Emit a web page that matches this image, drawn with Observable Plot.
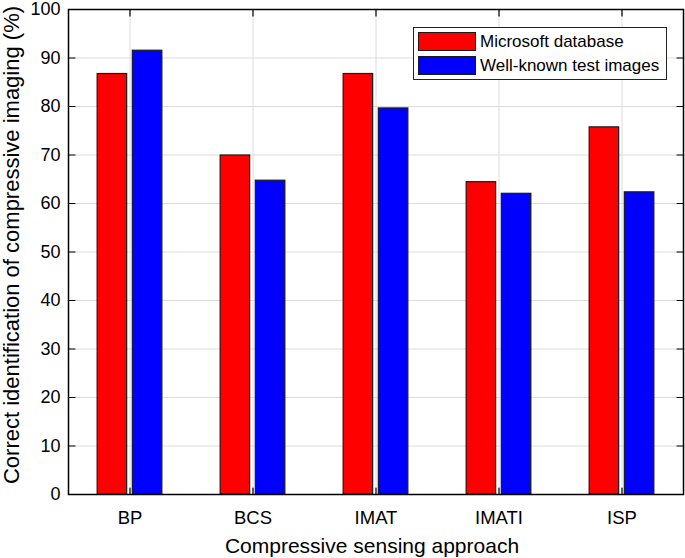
<!DOCTYPE html>
<html>
<head>
<meta charset="utf-8">
<script src="https://cdn.jsdelivr.net/npm/d3@7"></script>
<script src="https://cdn.jsdelivr.net/npm/@observablehq/plot@0.6"></script>
<style>
  html, body { margin: 0; padding: 0; background: #fff; }
  #wrap { position: relative; width: 685px; height: 558px; font-family: "Liberation Sans", Arial, sans-serif; }
  #legend { position: absolute; left: 413px; top: 27px; width: 252px; height: 51px;
            border: 1.3px solid #222; background: #fff; box-sizing: content-box; }
  .row { position: absolute; left: 4px; display: flex; align-items: center; height: 19px; }
  .sw { width: 56px; height: 17px; border: 1.2px solid #1a1a1a; margin-right: 4px; }
  .lt { font-size: 17px; color: #000; line-height: 19px; white-space: nowrap; }
</style>
</head>
<body>
<div id="wrap"></div>
<script>
// ---- data ----
const categories = ["BP", "BCS", "IMAT", "IMATI", "ISP"];
const seriesNames = ["Microsoft database", "Well-known test images"];
const microsoft = [86.7, 69.9, 86.7, 64.4, 75.7];
const wellKnown = [91.5, 64.7, 79.6, 62.0, 62.3];
const yTicks = [0, 10, 20, 30, 40, 50, 60, 70, 80, 90, 100];
const seriesColors = ["#ff0000", "#0000ff"];

// ---- layout / style constants ----
const barOffsets = [[-0.263, -0.023], [0.023, 0.263]]; // per series, in category units
const font = "Liberation Sans, Arial, sans-serif";
const catIdx = categories.map((c, i) => i + 1);

const rows = [];
[microsoft, wellKnown].forEach((vals, s) => {
  vals.forEach((v, i) => rows.push({i: i + 1, s, value: v}));
});

const tickShape = {draw(context, l) { context.moveTo(0, 0); context.lineTo(0, -l); }};
const tickOpts = {length: 6.5, anchor: "start", shape: tickShape, stroke: "#000", strokeWidth: 1.2};

const chart = Plot.plot({
  width: 685,
  height: 558,
  marginLeft: 68,
  marginRight: 2,
  marginTop: 9,
  marginBottom: 64,
  style: {fontFamily: font, background: "#fff", overflow: "visible"},
  x: {domain: [0.5, 5.5], axis: null},
  y: {domain: [0, 100], axis: null},
  marks: [
    Plot.gridY(yTicks, {stroke: "#dcdcdc", strokeOpacity: 1, strokeWidth: 1}),
    Plot.gridX(catIdx, {stroke: "#dcdcdc", strokeOpacity: 1, strokeWidth: 1}),
    Plot.rectY(rows, {
      x1: d => d.i + barOffsets[d.s][0],
      x2: d => d.i + barOffsets[d.s][1],
      y1: 0,
      y2: "value",
      fill: d => seriesColors[d.s],
      stroke: "#1a1a1a",
      strokeWidth: 1.2
    }),
    Plot.frame({stroke: "#000", strokeWidth: 1.5}),
    Plot.vector(catIdx, {x: d => d, frameAnchor: "bottom", rotate: 0, ...tickOpts}),
    Plot.vector(catIdx, {x: d => d, frameAnchor: "top", rotate: 180, ...tickOpts}),
    Plot.vector(yTicks, {y: d => d, frameAnchor: "left", rotate: 90, ...tickOpts}),
    Plot.vector(yTicks, {y: d => d, frameAnchor: "right", rotate: -90, ...tickOpts}),
    // y tick labels
    Plot.text(yTicks, {
      y: d => d, text: d => String(d), frameAnchor: "left", dx: -8, textAnchor: "end",
      lineAnchor: "middle", fontSize: 18, fill: "#000"
    }),
    // x tick labels
    Plot.text(catIdx, {
      x: d => d, text: d => categories[d - 1], frameAnchor: "bottom", dy: 29.5,
      lineAnchor: "bottom", textAnchor: "middle", fontSize: 18.5, fill: "#000"
    }),
    Plot.text(["Compressive sensing approach"], {
      text: d => d, frameAnchor: "bottom", dy: 58, dx: -4, lineAnchor: "bottom",
      fontSize: 21, fill: "#000"
    }),
    Plot.text(["Correct identification of compressive imaging (%)"], {
      text: d => d, frameAnchor: "left", dx: -57, dy: -7, rotate: -90, lineAnchor: "middle",
      textAnchor: "middle", fontSize: 22, fill: "#000"
    })
  ]
});

const wrap = document.getElementById("wrap");
wrap.appendChild(chart);

// legend (inside the axes, top-right, as in the reference)
const legend = document.createElement("div");
legend.id = "legend";
seriesNames.forEach((name, s) => {
  const row = document.createElement("div");
  row.className = "row";
  row.style.top = (s === 0 ? 4 : 28) + "px";
  const sw = document.createElement("div");
  sw.className = "sw";
  sw.style.background = seriesColors[s];
  const lt = document.createElement("span");
  lt.className = "lt";
  lt.textContent = name;
  row.appendChild(sw);
  row.appendChild(lt);
  legend.appendChild(row);
});
wrap.appendChild(legend);
</script>
</body>
</html>
